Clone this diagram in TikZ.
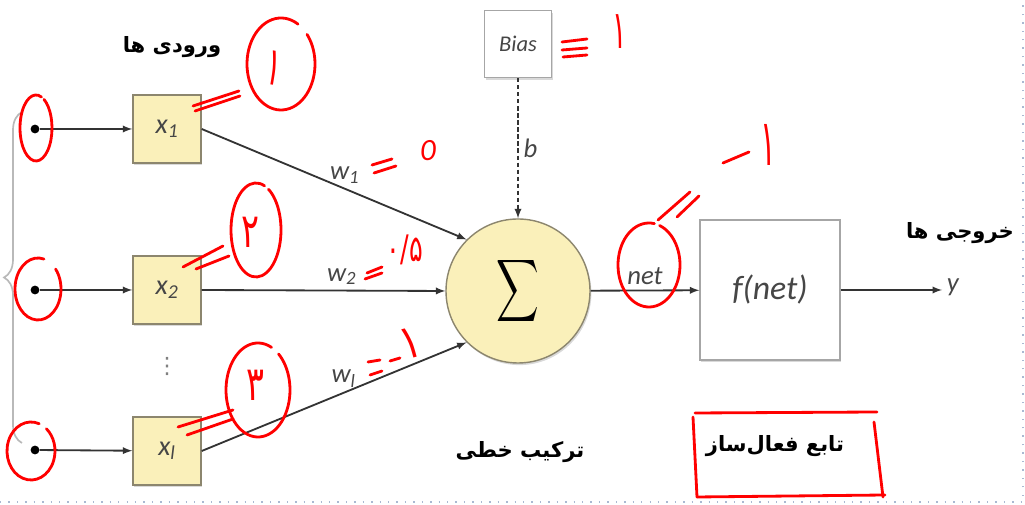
\documentclass[tikz,border=0pt]{standalone}
\usepackage{fontspec}
\setmainfont{Carlito}
\newfontfamily\farsi[Script=Arabic]{DejaVu Sans}
\TeXXeTstate=1
\usetikzlibrary{shapes,shadows,decorations.pathreplacing}
\definecolor{boxyellow}{RGB}{250,240,186}
\definecolor{boxedge}{RGB}{140,134,110}
\definecolor{labelgray}{RGB}{70,70,70}
\definecolor{pagedots}{RGB}{170,185,210}
\tikzstyle{dot}=[circle,fill=black,minimum size=0.22cm,inner sep=0pt]
\tikzstyle{inbox}=[rectangle,draw=boxedge,fill=boxyellow,line width=1pt,minimum size=1.7cm,
  drop shadow={shadow xshift=1pt,shadow yshift=-1.5pt,opacity=.3},text=labelgray,
  font=\fontsize{20}{24}\selectfont\itshape]
\tikzstyle{sumnode}=[circle,draw=boxedge,fill=boxyellow,line width=1pt,minimum size=3.6cm,
  drop shadow={shadow xshift=1pt,shadow yshift=-1.5pt,opacity=.3}]
\tikzstyle{whitebox}=[rectangle,draw=gray!70,fill=white,line width=1pt,text=labelgray,
  drop shadow={shadow xshift=1pt,shadow yshift=-1.5pt,opacity=.3}]
\tikzstyle{wire}=[draw=black!80,line width=1.3pt,-latex]
\tikzstyle{wlabel}=[text=labelgray,font=\fontsize{19}{22}\selectfont\itshape]
\tikzstyle{fatext}=[font=\farsi\bfseries\fontsize{15}{18}\selectfont]
\tikzstyle{redpen}=[red,line width=2pt,line cap=round]
\tikzstyle{redtext}=[text=red,inner sep=0pt,font=\farsi]

\begin{document}
\begin{tikzpicture}
\useasboundingbox (0,0) rectangle (25.625,12.625);
\draw[pagedots,line width=1pt,dash pattern=on 1pt off 5pt] (0,0.075) -- (25.575,0.075) -- (25.575,12.625);

% inputs
\draw[gray!55,line width=1.2pt,decorate,decoration={brace,amplitude=0.45cm}] (0.55,1.55) -- (0.55,9.825);
\node[dot] (i1) at (0.875,9.4) {};
\node[dot] (i2) at (0.875,5.375) {};
\node[dot] (i3) at (0.875,1.375) {};
\node[inbox] (x1) at (4.175,9.4) {x\textsubscript{1}};
\node[inbox] (x2) at (4.175,5.375) {x\textsubscript{2}};
\node[inbox] (xl) at (4.175,1.35) {x\textsubscript{\textit{l}}};
\node[text=gray,font=\farsi\fontsize{16}{18}\selectfont] (vd) at (4.175,3.45) {⋮};
\draw[wire] (i1) -- (x1);
\draw[wire] (i2) -- (x2);
\draw[wire] (i3) -- (xl);

% summation and activation
\node[sumnode] (sum) at (12.95,5.35) {\scalebox{2.1}[3.1]{$\displaystyle\sum$}};
\node[whitebox,minimum size=1.675cm,font=\fontsize{16}{18}\selectfont\itshape] (bias) at (12.95,11.525) {Bias};
\node[whitebox,minimum size=3.5cm,font=\fontsize{24}{28}\selectfont\itshape] (act) at (19.25,5.375) {f(net)};
\node[wlabel,anchor=west] (y) at (23.55,5.45) {y};

\draw[wire] (x1.east) -- (sum.135) node[pos=.54,above,wlabel] {w\textsubscript{1}};
\draw[wire] (x2.east) -- (sum.west) node[pos=.575,above,wlabel] {w\textsubscript{2}};
\draw[wire] (xl.east) -- (sum.225) node[pos=.536,above,wlabel] {w\textsubscript{\textit{l}}};
\draw[wire,dash pattern=on 3pt off 2pt] (bias) -- (sum) node[midway,right,wlabel] {b};
\draw[wire] (sum) -- (act) node[midway,above,wlabel] {net};
\draw[wire] (act.east) -- (act.east -| y.west);

\node[fatext] (intitle) at (4.3,11.45) {\beginR ورودی ها\endR};
\node[fatext] (outtitle) at (24.0,6.8) {\beginR خروجی ها\endR};
\node[fatext] (sumtitle) at (13.0,1.325) {\beginR ترکیب خطی\endR};
\node[fatext] (acttitle) at (19.375,1.475) {\beginR تابع فعال‌ساز\endR};

% pen marks
\draw[redpen] (0.9,9.425) ++(70:0.4 and 0.825) arc[start angle=70,end angle=420,x radius=0.4,y radius=0.825];
\draw[redpen] (0.95,5.4) ++(75:0.575 and 0.775) arc[start angle=75,end angle=400,x radius=0.575,y radius=0.775];
\draw[redpen] (0.775,1.35) ++(70:0.6 and 0.725) arc[start angle=70,end angle=410,x radius=0.6,y radius=0.725];
\draw[redpen] (7.025,11.025) ++(60:0.85 and 1.15) arc[start angle=60,end angle=400,x radius=0.85,y radius=1.15];
\draw[redpen] (6.4,6.875) ++(70:0.625 and 1.175) arc[start angle=70,end angle=420,x radius=0.625,y radius=1.175];
\draw[redpen] (6.45,2.875) ++(65:0.8 and 1.175) arc[start angle=65,end angle=410,x radius=0.8,y radius=1.175];
\draw[redpen] (16.225,6.0) ++(80:0.775 and 1.05) arc[start angle=80,end angle=430,x radius=0.775,y radius=1.05];
\draw[redpen] (17.375,2.3) -- (21.925,2.325);
\draw[redpen] (21.85,2.075) -- (22.075,0.2);
\draw[redpen] (17.425,0.2) -- (22.125,0.25);
\draw[redpen] (17.325,2.2) -- (17.425,0.2);
% equal signs
\draw[redpen] (4.825,9.975) -- (5.975,10.35) (4.875,9.85) -- (6.0,10.225);
\draw[redpen] (4.575,5.95) -- (5.575,6.475) (4.9,5.9) -- (5.725,6.225);
\draw[redpen] (4.45,1.95) -- (5.825,2.375) (4.675,1.75) -- (5.825,2.15);
\draw[redpen] (9.3,8.5) -- (9.8,8.65) (9.35,8.3) -- (9.9,8.475);
\draw[redpen] (9.175,5.8) -- (9.55,5.95) (9.125,5.65) -- (9.55,5.8);
\draw[redpen] (9.2,3.575) -- (9.5,3.625) (9.25,3.25) -- (9.55,3.35) (9.75,3.6) -- (10.0,3.675);
\draw[redpen] (14.05,11.575) -- (14.675,11.65) (14.05,11.375) -- (14.675,11.425) (14.075,11.2) -- (14.675,11.25);
\draw[redpen] (16.45,7.125) -- (17.25,7.825) (16.925,7.2) -- (17.475,7.725);
\draw[redpen] (18.075,8.55) -- (18.725,8.825);
% digits
\node[redtext,rotate=-10] (r1) at (6.85,10.925) {\fontsize{38}{40}\selectfont\scalebox{.55}[1]{۱}};
\node[redtext] (r2) at (6.25,6.825) {\fontsize{34}{40}\selectfont\scalebox{.7}[1]{۲}};
\node[redtext] (r3) at (6.375,3.0) {\fontsize{34}{40}\selectfont\scalebox{.7}[1]{۳}};
\node[redtext,font=\itshape] (rw1) at (10.7,8.85) {\fontsize{22}{24}\selectfont 0};
\node[redtext] (rw2) at (10.125,6.375) {\fontsize{26}{30}\selectfont\scalebox{.7}[1]{۰/۵}};
\node[redtext,rotate=15] (rwl) at (10.25,4.05) {\fontsize{34}{40}\selectfont\scalebox{.8}[1]{۱}};
\node[redtext] (rb) at (15.5,11.825) {\fontsize{38}{40}\selectfont\scalebox{.5}[1]{۱}};
\node[redtext] (rn) at (19.2,9.0) {\fontsize{46}{50}\selectfont\scalebox{.45}[1]{۱}};
\end{tikzpicture}
\end{document}
